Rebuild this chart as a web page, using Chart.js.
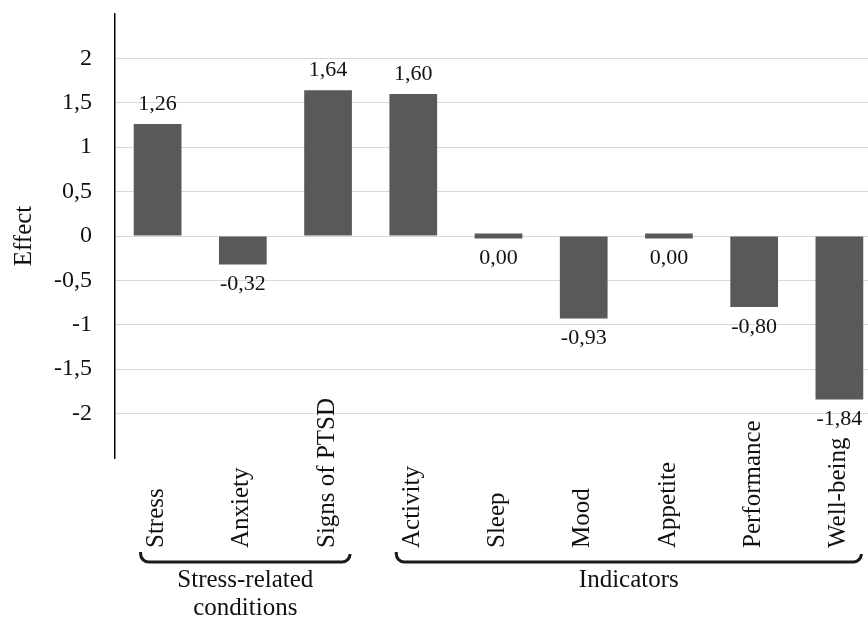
<!DOCTYPE html>
<html>
<head>
<meta charset="utf-8">
<script src="https://cdn.jsdelivr.net/npm/chart.js@4.4.1/dist/chart.umd.min.js"></script>
<style>
  html, body { margin: 0; padding: 0; background: #fff; overflow: hidden; }
  #wrap { width: 882px; height: 617px; }
</style>
</head>
<body>
<div id="wrap"><canvas id="chart" width="882" height="617"></canvas></div>
<script>
const categories = ['Stress', 'Anxiety', 'Signs of PTSD', 'Activity', 'Sleep', 'Mood', 'Appetite', 'Performance', 'Well-being'];
const effects = [1.26, -0.32, 1.64, 1.60, 0.00, -0.93, 0.00, -0.80, -1.84];

// category groups under the braces
const groupNames = [['Stress-related', 'conditions'], ['Indicators']];
const groupFirst = [0, 3];
const groupLast = [2, 8];

const yMin = -2.5;
const yMax = 2.5;
const yStep = 0.5;

const FONT = "'Liberation Serif', 'Times New Roman', serif";
const TEXT = '#111';

function comma(v, digits) {
    return (digits === undefined ? String(v) : v.toFixed(digits)).replace('.', ',');
}

const annotate = {
    id: 'annotate',
    afterDatasetsDraw(chart) {
        const ctx = chart.ctx;
        const meta = chart.getDatasetMeta(0);
        ctx.save();
        ctx.fillStyle = TEXT;
        ctx.font = '22px ' + FONT;
        ctx.textAlign = 'center';
        ctx.textBaseline = 'middle';
        meta.data.forEach((bar, i) => {
            const v = effects[i];
            const top = Math.min(bar.y, bar.base);
            const bottom = Math.max(bar.y, bar.base);
            const y = v > 0 ? top - 20 : bottom + 20;
            ctx.fillText(comma(v, 2), bar.x, y);
        });
        ctx.restore();
    },
    afterDraw(chart) {
        const ctx = chart.ctx;
        const x = chart.scales.x;
        ctx.save();
        ctx.fillStyle = TEXT;

        // rotated category labels
        ctx.font = '25px ' + FONT;
        ctx.textAlign = 'left';
        ctx.textBaseline = 'middle';
        categories.forEach((c, i) => {
            ctx.save();
            ctx.translate(x.getPixelForValue(i) - 1, 548);
            ctx.rotate(-Math.PI / 2);
            ctx.fillText(c, 0, 0);
            ctx.restore();
        });

        // braces and group names
        ctx.strokeStyle = '#1a1a1a';
        ctx.lineWidth = 3;
        ctx.textAlign = 'center';
        groupNames.forEach((lines, g) => {
            const l = x.getPixelForValue(groupFirst[g]) - 17;
            const r = x.getPixelForValue(groupLast[g]) + 22;
            const yb = 562, yt = 552, rad = 8;
            ctx.beginPath();
            ctx.moveTo(l, yt);
            ctx.arcTo(l, yb, l + rad, yb, rad);
            ctx.lineTo(r - rad, yb);
            ctx.arcTo(r, yb, r, yt, rad);
            ctx.stroke();
            const cx = (l + r) / 2;
            lines.forEach((t, k) => ctx.fillText(t, cx, 580 + k * 28));
        });
        ctx.restore();
    }
};

new Chart(document.getElementById('chart'), {
    type: 'bar',
    data: {
        labels: categories,
        datasets: [{
            data: effects,
            backgroundColor: '#595959',
            borderWidth: 0,
            barPercentage: 0.56,
            categoryPercentage: 1.0,
            minBarLength: 5
        }]
    },
    options: {
        responsive: false,
        animation: false,
        layout: { padding: { top: 14, bottom: 159, right: 0, left: 0 } },
        plugins: { legend: { display: false }, tooltip: { enabled: false } },
        scales: {
            x: { display: false },
            y: {
                min: yMin,
                max: yMax,
                afterFit: s => {
                    s.width = 115;
                    s.paddingTop = 0;
                    s.paddingBottom = 0;
                },
                ticks: {
                    stepSize: yStep,
                    padding: 23,
                    color: TEXT,
                    font: { family: FONT, size: 24 },
                    callback: v => (Math.abs(v) === 2.5 ? null : comma(v))
                },
                grid: { color: '#d9d9d9', lineWidth: 1, drawTicks: false },
                border: { display: true, color: '#000', width: 1.5 },
                title: {
                    display: true,
                    text: 'Effect',
                    color: TEXT,
                    font: { family: FONT, size: 25 },
                    padding: { top: 9, bottom: 0 }
                }
            }
        }
    },
    plugins: [annotate]
});
</script>
</body>
</html>
